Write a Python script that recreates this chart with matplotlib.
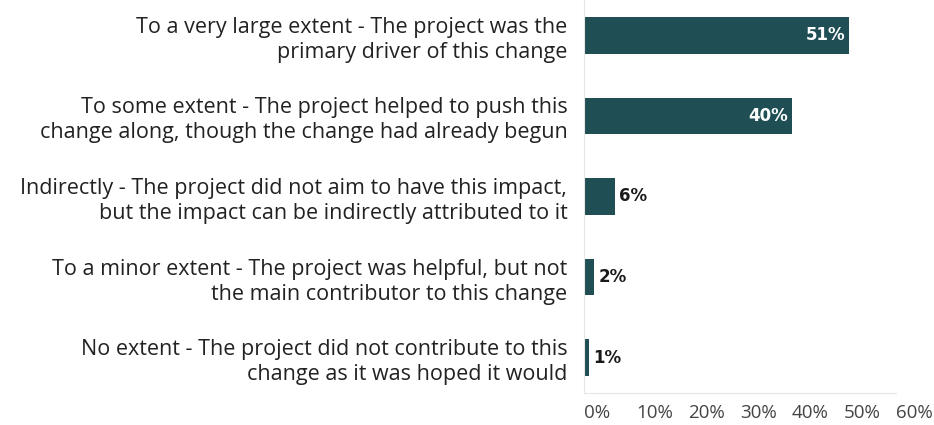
import matplotlib
matplotlib.use("Agg")
import matplotlib.pyplot as plt

categories = [
    "To a very large extent - The project was the\nprimary driver of this change",
    "To some extent - The project helped to push this\nchange along, though the change had already begun",
    "Indirectly - The project did not aim to have this impact,\nbut the impact can be indirectly attributed to it",
    "To a minor extent - The project was helpful, but not\nthe main contributor to this change",
    "No extent - The project did not contribute to this\nchange as it was hoped it would",
]
values = [0.51, 0.40, 0.06, 0.02, 0.01]
value_labels = ["51%", "40%", "6%", "2%", "1%"]
ticks = [0, 0.1, 0.2, 0.3, 0.4, 0.5, 0.6]
tick_labels = ["0%", "10%", "20%", "30%", "40%", "50%", "60%"]

bar_color = "#1f4f55"
plt.rcParams["font.family"] = ["Open Sans", "DejaVu Sans"]

fig = plt.figure(figsize=(9.34, 4.25), dpi=100)
ax = fig.add_axes([584 / 934, 32 / 425, 312 / 934, 393 / 425])

ypos = list(range(len(values)))
ax.barh(ypos, values, height=0.45, color=bar_color)
ax.set_xlim(0, 0.6)
ax.set_ylim(4.44, -0.44)

for y, v, lab in zip(ypos, values, value_labels):
    if v > 0.2:
        ax.text(v - 0.008, y, lab, ha="right", va="center", color="white",
                fontsize=12, fontweight="bold", family="DejaVu Sans")
    else:
        ax.text(v + 0.008, y, lab, ha="left", va="center", color="#1a1a1a",
                fontsize=12, fontweight="bold", family="DejaVu Sans")

ax.set_yticks(ypos)
ax.set_yticklabels(categories, fontsize=15.5, color="#222222", linespacing=1.25)
ax.tick_params(axis="y", length=0, pad=12)
ax.set_xticks(ticks)
ax.set_xticklabels(tick_labels, fontsize=13.5, color="#444444", ha="left")
ax.tick_params(axis="x", length=0, pad=8)

for s in ["top", "right"]:
    ax.spines[s].set_visible(False)
ax.spines["left"].set_color("#e6e6e6")
ax.spines["bottom"].set_color("#e6e6e6")

fig.savefig("out.png", dpi=100)
